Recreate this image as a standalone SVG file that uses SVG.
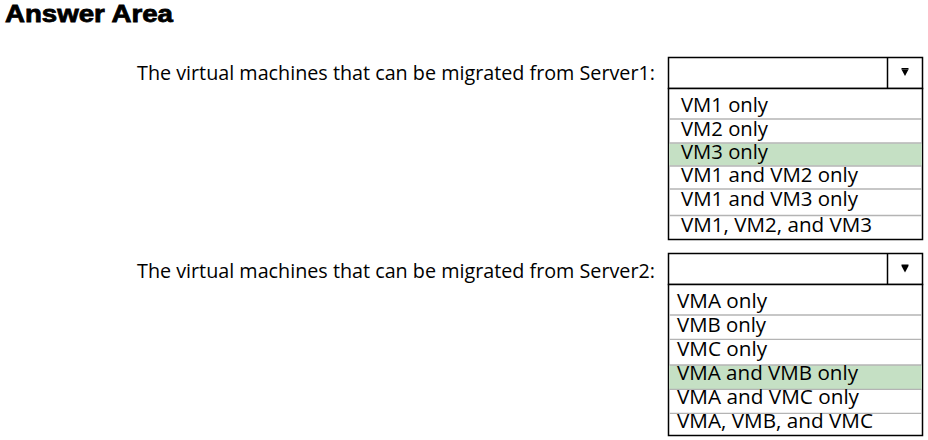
<svg xmlns="http://www.w3.org/2000/svg" width="928" height="440" viewBox="0 0 928 440">
<style>
.title{font-family:"Liberation Sans",Arial,sans-serif;font-weight:900;font-size:24px;fill:#000;}
.lbl{font-family:"Open Sans","Noto Sans",sans-serif;font-size:20px;fill:#000;}
.opt{font-family:"Open Sans","Noto Sans",sans-serif;font-size:20px;fill:#000;}
.box{fill:#fff;stroke:#000;stroke-width:1.5;}
.sep{stroke:#b4b4b4;stroke-width:1.3;}
.sel{fill:#c5e0c4;}
.arr{fill:#000;}
</style>
<rect width="928" height="440" fill="#fff"/>
<g id="title"><text class="title" x="5" y="22" textLength="168" lengthAdjust="spacingAndGlyphs" stroke="#000" stroke-width="0.8">Answer Area</text></g>

<g id="label1"><text class="lbl" x="137" y="80" textLength="518" lengthAdjust="spacingAndGlyphs">The virtual machines that can be migrated from Server1:</text></g>
<g id="dropdown1">
<rect class="box" x="668.5" y="57.5" width="254" height="31"/>
<line x1="887.5" y1="57.5" x2="887.5" y2="88.5" stroke="#000" stroke-width="1.5"/>
<rect class="arr" x="901.5" y="68" width="7" height="1.5"/>
<polygon class="arr" points="901.5,69.5 908.5,69.5 905,76"/>
<rect class="box" x="668.5" y="88.5" width="254" height="151"/>
<rect class="sel" x="669.3" y="143.3" width="252.4" height="22.4"/>
<line class="sep" x1="669.3" y1="119" x2="921.7" y2="119"/>
<line class="sep" x1="669.3" y1="143" x2="921.7" y2="143"/>
<line class="sep" x1="669.3" y1="166" x2="921.7" y2="166"/>
<line class="sep" x1="669.3" y1="189" x2="921.7" y2="189"/>
<line class="sep" x1="669.3" y1="215.5" x2="921.7" y2="215.5"/>
<text class="opt" x="681" y="111.5" textLength="87" lengthAdjust="spacingAndGlyphs">VM1 only</text>
<text class="opt" x="681" y="135.5" textLength="87" lengthAdjust="spacingAndGlyphs">VM2 only</text>
<text class="opt" x="681" y="159" textLength="87" lengthAdjust="spacingAndGlyphs">VM3 only</text>
<text class="opt" x="681" y="182" textLength="177" lengthAdjust="spacingAndGlyphs">VM1 and VM2 only</text>
<text class="opt" x="681" y="206" textLength="177" lengthAdjust="spacingAndGlyphs">VM1 and VM3 only</text>
<text class="opt" x="681" y="231.5" textLength="191" lengthAdjust="spacingAndGlyphs">VM1, VM2, and VM3</text>
</g>

<g id="label2"><text class="lbl" x="137" y="277.7" textLength="518" lengthAdjust="spacingAndGlyphs">The virtual machines that can be migrated from Server2:</text></g>
<g id="dropdown2">
<rect class="box" x="668.5" y="253.5" width="254" height="31"/>
<line x1="887.5" y1="253.5" x2="887.5" y2="284.5" stroke="#000" stroke-width="1.5"/>
<rect class="arr" x="901.5" y="264.5" width="7" height="1.5"/>
<polygon class="arr" points="901.5,266 908.5,266 905,272.5"/>
<rect class="box" x="668.5" y="284.5" width="254" height="151"/>
<rect class="sel" x="669.3" y="365" width="252.4" height="24.3"/>
<line class="sep" x1="669.3" y1="315" x2="921.7" y2="315"/>
<line class="sep" x1="669.3" y1="339.3" x2="921.7" y2="339.3"/>
<line class="sep" x1="669.3" y1="365" x2="921.7" y2="365"/>
<line class="sep" x1="669.3" y1="389.3" x2="921.7" y2="389.3"/>
<line class="sep" x1="669.3" y1="413.3" x2="921.7" y2="413.3"/>
<text class="opt" x="677" y="308" textLength="90" lengthAdjust="spacingAndGlyphs">VMA only</text>
<text class="opt" x="677" y="331.5" textLength="89" lengthAdjust="spacingAndGlyphs">VMB only</text>
<text class="opt" x="677" y="355.5" textLength="90" lengthAdjust="spacingAndGlyphs">VMC only</text>
<text class="opt" x="677" y="380" textLength="181" lengthAdjust="spacingAndGlyphs">VMA and VMB only</text>
<text class="opt" x="677" y="403.5" textLength="182" lengthAdjust="spacingAndGlyphs">VMA and VMC only</text>
<text class="opt" x="677" y="428" textLength="196" lengthAdjust="spacingAndGlyphs">VMA, VMB, and VMC</text>
</g>
</svg>
